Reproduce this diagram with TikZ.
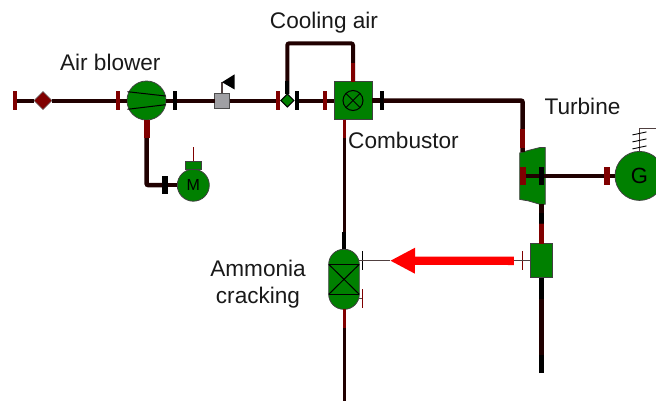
\documentclass[tikz,border=0pt]{standalone}
\usepackage{fontspec}
\setmainfont{Liberation Sans}
\usepackage{tikz}
\usetikzlibrary{arrows.meta}
\usetikzlibrary{positioning}
\usetikzlibrary{shapes.geometric}
\definecolor{dkred}{HTML}{800000}
\definecolor{pipecol}{HTML}{200000}
\definecolor{eqgreen}{HTML}{008000}
\definecolor{valvegrey}{HTML}{A0A0A4}
\definecolor{thincol}{HTML}{504040}
\tikzset{
    every node/.style={inner sep=0pt,outer sep=0pt},
    redtick/.style={rectangle,fill=dkred,minimum width=4pt,minimum height=18.5pt},
    blktick/.style={rectangle,fill=black,minimum width=4pt,minimum height=18.5pt},
    thintick/.style={rectangle,minimum width=1.3pt,minimum height=19pt},
    equip/.style={draw=black!75,line width=.8pt,fill=eqgreen},
    roundeq/.style={equip,circle},
    boxeq/.style={equip,rectangle},
    tag/.style={font=\fontsize{22.6}{27}\selectfont,text=black!90,anchor=center,align=center},
    pipe/.style={draw=pipecol,line width=4pt},
    widepipe/.style={draw=pipecol,line width=4.5pt,rounded corners=2pt},
    redstub/.style={draw=dkred,line width=4.5pt},
    blkstub/.style={draw=black,line width=4.5pt},
    thinline/.style={draw=thincol,line width=1.1pt},
    detail/.style={draw=black,line width=1pt}
}
\begin{document}
\begin{tikzpicture}[x=1pt,y=-1pt]
    \clip (0,0) rectangle (656,400);
    % air line
    \node [redtick] (inl) at (15,100.5) {};
    \node [diamond,draw=black!60,line width=.6pt,fill=dkred,minimum size=18pt] (feed) [right=17pt of inl] {};
    \node [redtick] (bin) [right=64pt of feed] {};
    \node [roundeq,minimum size=39pt] (blower) [right=7pt of bin] {};
    \node [blktick] (bout) [right=6.7pt of blower] {};
    \node [rectangle,draw=black!70,line width=.8pt,fill=valvegrey,minimum size=15pt] (flow) [right=37.8pt of bout] {};
    \node [redtick] (min) [right=46.2pt of flow] {};
    \node [diamond,draw=black,line width=1pt,fill=eqgreen,minimum size=13pt] (mix) [right=1.1pt of min] {};
    \node [blktick] (mout) [right=1.2pt of mix] {};
    \node [redtick] (cin) [right=24pt of mout] {};
    \node [boxeq,minimum size=38pt] (comb) [right=7pt of cin] {};
    \node [blktick] (cout) [right=7.7pt of comb] {};
    % motor
    \node [blktick,minimum width=5.5pt] (mtick) [below right=75.45pt and 15.75pt of blower.center] {};
    \node [roundeq,minimum size=32pt] (motor) [right=9.55pt of mtick] {\fontsize{16}{18}\selectfont M};
    \node [boxeq,minimum width=15.3pt,minimum height=8.3pt] (mbox) [above=0pt of motor] {};
    % turbine and generator
    \node [rectangle,minimum width=25.6pt,minimum height=56.7pt] (turb) [below right=37.8pt and 136pt of cout] {};
    \draw [equip] ([shift={(-12.8,-23)}]turb.center) -- ([shift={(-4,-25.5)}]turb.center)
        -- ([shift={(7.5,-28.4)}]turb.center) -- ([shift={(12.8,-28.4)}]turb.center)
        -- ([shift={(12.8,28.4)}]turb.center) -- ([shift={(7.5,28.4)}]turb.center)
        -- ([shift={(-4,25)}]turb.center) -- ([shift={(-12.8,23.5)}]turb.center) -- cycle;
    \node [redtick,minimum width=6pt] (tin) [right=0pt of turb.west] {};
    \node [blktick,minimum width=5pt] (tout) [left=1.5pt of turb.east] {};
    \node [redtick,minimum width=6pt] (gin) [right=60.5pt of tout] {};
    \node [roundeq,minimum size=49pt] (gen) [right=4.7pt of gin] {\fontsize{22}{26}\selectfont G};
    % heater and cracker
    \node [boxeq,minimum width=22.4pt,minimum height=34pt] (heat) [below=58.7pt of tout] {};
    \node [thintick,fill=dkred] (hot) [left=7pt of heat] {};
    \node [equip,rectangle,rounded corners=15pt,minimum width=30.6pt,minimum height=60pt] (crack) [below left=129.8pt and -25.3pt of comb] {};
    \node [thintick,fill=black] (cold) [above right=9.1pt and 2.75pt of crack.east] {};
    \node [thintick,fill=dkred] (vent) [below right=9.7pt and 2.75pt of crack.east] {};
    % free ends
    \coordinate [above=38.2pt of comb] (atop);
    \coordinate [above=10.8pt of flow] (flag);
    \coordinate [above=13.7pt of mbox] (mant);
    \coordinate [right=26.65pt of cold.east] (atip);
    \coordinate [left=8pt of hot] (atail);
    \coordinate [above=14.5pt of tin] (tport);
    \coordinate [above=19pt of tin] (tred);
    \coordinate [above=37.7pt of tin] (tredb);
    \coordinate [below=19pt of tout] (tdrain);
    \coordinate [below=95.3pt of heat] (exh);
    \coordinate [below=92pt of crack] (cdrain);
    \coordinate [above=22.5pt of gen] (gtop);
    \coordinate [right=20pt of gtop] (gend);
    % pipes
    \path[pipe]
        (inl) edge (feed)
        (feed) edge (bin)
        (bin) edge (blower)
        (blower) edge (bout)
        (bout) edge (flow)
        (flow) edge (min)
        (mout) edge (cin)
        (cin) edge (comb);
    \draw [widepipe] (blower.south) |- (mtick.west);
    \draw [widepipe,line width=4pt] (comb.north) -- (atop) -| (mix.north);
    \draw [widepipe] (cout.east) -| (tport);
    \path[widepipe]
        (comb) edge (cout)
        (mtick) edge (motor)
        (tin) edge (tout)
        (tout) edge (gin)
        (gin) edge (gen)
        (tdrain) edge (heat.north)
        (heat.south) edge (exh);
    \draw [pipe,line width=3pt] (comb.south -| crack.north) -- (crack.north);
    \draw [pipe,line width=3pt] (crack.south) -- (cdrain);
    % coloured pipe ends
    \path[redstub]
        (blower.south) edge [line width=6pt] ++(0,18)
        (comb.north) edge ++(0,-19)
        (tred) edge (tredb)
        (heat.north) edge ++(0,-20)
        (comb.south -| crack.north) edge [line width=3pt] ++(0,18)
        (crack.south) edge [line width=3pt] ++(0,19);
    \path[blkstub]
        (mix.north) edge [line width=4pt] ++(0,-13)
        (crack.north) edge [line width=3.5pt] ++(0,-17)
        ([yshift=-9pt]tdrain) edge ++(0,10)
        (heat.south) edge ++(0,21.5)
        (exh) edge ++(0,-18);
    % inner details
    \path[detail]
        ([shift={(-19,-8.8)}]blower.center) edge ([shift={(19,-4.5)}]blower.center)
        ([shift={(-19,8.8)}]blower.center) edge ([shift={(19,4.2)}]blower.center)
        ([shift={(45:10)}]comb.center) edge ([shift={(225:10)}]comb.center)
        ([shift={(135:10)}]comb.center) edge ([shift={(315:10)}]comb.center)
        ([shift={(-15.3,-15)}]crack.center) edge ([shift={(15.3,-15)}]crack.center)
        ([shift={(-15.3,15)}]crack.center) edge ([shift={(15.3,15)}]crack.center)
        ([shift={(-15.3,-15)}]crack.center) edge ([shift={(15.3,15)}]crack.center)
        ([shift={(-15.3,15)}]crack.center) edge ([shift={(15.3,-15)}]crack.center);
    \draw [detail] (comb.center) circle (10);
    % flag, aerial, earth
    \draw [thinline] (flow.north) -- (flag);
    \fill (flag) -- ++(12.5,-7.8) -- ++(0,15) -- cycle;
    \draw [draw=dkred,line width=.9pt] (mbox.north) -- (mant);
    \draw [thinline] (gen.north) -- (gtop) -- (gend);
    \path[draw=black,line width=.9pt]
        ([shift={(-7,6)}]gtop) edge ([shift={(7,3)}]gtop)
        ([shift={(-7,13)}]gtop) edge ([shift={(7,10)}]gtop)
        ([shift={(-7,20)}]gtop) edge ([shift={(7,17)}]gtop);
    % heat flow
    \draw [thinline] (crack.east |- cold) -- (atip);
    \draw [thinline] (crack.east |- vent) -- (vent);
    \draw [thinline] (atail) -- (heat.west);
    \draw [red,line width=8.3pt,-{Triangle[length=25pt,width=24pt]}] (atail) -- (atip);
    % labels
    \node [tag] (lblow) [above left=38.5pt and 36.2pt of blower.center,anchor=center] {Air blower};
    \node [tag] (lcool) [above left=77.5pt and 29pt of comb.center,anchor=center] {Cooling air};
    \node [tag] (lcomb) [below right=39.5pt and 50.5pt of comb.center,anchor=center] {Combustor};
    \node [tag] (lturb) [above right=69.7pt and 50pt of turb.center,anchor=center] {Turbine};
    \node [tag] (lcrack) [below left=4.5pt and 86pt of crack.center,anchor=center] {Ammonia\\cracking};
\end{tikzpicture}
\end{document}
